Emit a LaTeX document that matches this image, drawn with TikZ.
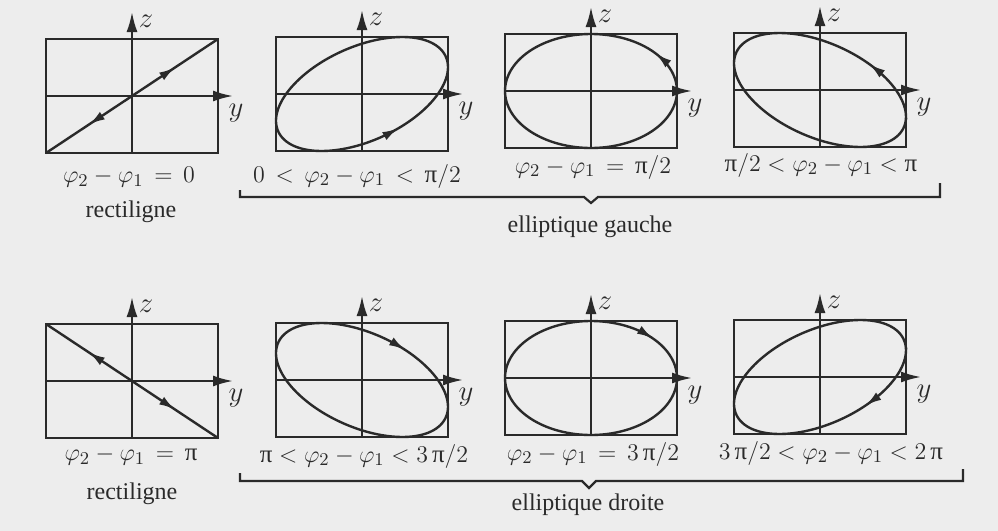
\documentclass[tikz,border=0pt]{standalone}
\usepackage{fontspec}
\setmainfont{Liberation Serif}
\usetikzlibrary{arrows.meta}
\definecolor{ink}{HTML}{2A2A2A}
\definecolor{paper}{HTML}{EDEDED}
\newcommand{\upi}{\mbox{π}}
\tikzset{
  frame/.style={draw=ink, line width=1.1pt},
  axis/.style={draw=ink, line width=1.1pt, -{Latex[length=10pt,width=5.5pt]}},
  curve/.style={draw=ink, line width=1.2pt},
  tip/.style={draw=ink, line width=1.2pt, -{Latex[length=8pt,width=4.5pt]}},
  lbl/.style={font=\fontsize{12}{14}\selectfont, inner sep=0pt, text=ink},
  mlbl/.style={font=\fontsize{12.5}{15}\selectfont, inner sep=0pt, text=ink},
  axlbl/.style={font=\fontsize{14}{16}\selectfont, inner sep=0pt, text=ink},
}
% #1 cx, #2 cy, #3 name
\newcommand{\panelframe}[3]{%
  \begin{scope}[shift={(#1,#2)}, yscale=-1]
    \draw[frame] (-86,-57) rectangle (86,57);
    \draw[axis] (0,-57) -- (0,84);
    \draw[axis] (-86,0) -- (101,0);
    \node[axlbl] (#3z) at (14,75) {$z$};
    \node[axlbl] (#3y) at (104,-17) {$y$};
  \end{scope}}
% #1 cx, #2 cy, #3 phase, #4 arrow parameter
\newcommand{\panelellipse}[4]{%
  \begin{scope}[shift={(#1,#2)}, yscale=-1]
    \draw[curve] plot[domain=0:360, samples=120, smooth cycle, variable=\t] ({86*cos(\t)},{57*cos(\t-#3)});
    \draw[tip] ({86*cos(#4-5)},{57*cos(#4-5-#3)}) -- ({86*cos(#4)},{57*cos(#4-#3)});
  \end{scope}}
\begin{document}
\begin{tikzpicture}[x=0.5pt, y=-0.5pt]
\useasboundingbox (0,0) rectangle (998,531);
\fill[paper] (0,0) rectangle (998,531);

% ---- top row ----
\panelframe{132}{96}{a}
\begin{scope}[shift={(132,96)}, yscale=-1]
  \draw[curve] (-86,-57) -- (86,57);
  \draw[tip] (30,19.9) -- (43,28.5);
  \draw[tip] (-30,-19.9) -- (-43,-28.5);
\end{scope}
\panelframe{362}{94}{b}
\panelellipse{362}{94}{62}{-65}
\panelframe{591}{91}{c}
\panelellipse{591}{91}{90}{41}
\panelframe{820}{90}{d}
\panelellipse{820}{90}{118}{55}

\node[mlbl] (la) at (129,177) {$\varphi_2 - \varphi_1 \,=\, 0$};
\node[mlbl] (lb) at (357,176) {$0 \,<\, \varphi_2 - \varphi_1 \,<\, \upi/2$};
\node[mlbl] (lc) at (593,167) {$\varphi_2 - \varphi_1 \,=\, \upi/2$};
\node[mlbl] (ld) at (821,165) {$\upi/2 < \varphi_2 - \varphi_1 < \upi$};
\node[lbl] (ra) at (131,212) {rectiligne};
\node[lbl] (ga) at (590,227) {elliptique gauche};
\draw[ink, line width=1.1pt] (240,190) -- (240,197) -- (584,197) -- (591,203) -- (598,197) -- (940,197) -- (940,183);

% ---- bottom row ----
\panelframe{132}{381}{e}
\begin{scope}[shift={(132,381)}, yscale=-1]
  \draw[curve] (-86,57) -- (86,-57);
  \draw[tip] (-30,19.9) -- (-43,28.5);
  \draw[tip] (30,-19.9) -- (43,-28.5);
\end{scope}
\panelframe{362}{380}{f}
\panelellipse{362}{380}{242}{-60}
\panelframe{591}{378}{g}
\panelellipse{591}{378}{270}{-44}
\panelframe{820}{377}{h}
\panelellipse{820}{377}{298}{58}

\node[mlbl] (le) at (131,456) {$\varphi_2 - \varphi_1 \,=\, \upi$};
\node[mlbl] (lf) at (364,456) {$\upi < \varphi_2 - \varphi_1 < 3\,\upi/2$};
\node[mlbl] (lg) at (593,454) {$\varphi_2 - \varphi_1 \,=\, 3\,\upi/2$};
\node[mlbl] (lh) at (831,453) {$3\,\upi/2 < \varphi_2 - \varphi_1 < 2\,\upi$};
\node[lbl] (rb) at (132,494) {rectiligne};
\node[lbl] (dr) at (588,505) {elliptique droite};
\draw[ink, line width=1.1pt] (240,473) -- (240,481) -- (582,481) -- (589,488) -- (596,481) -- (963,481) -- (963,469);
\end{tikzpicture}
\end{document}
